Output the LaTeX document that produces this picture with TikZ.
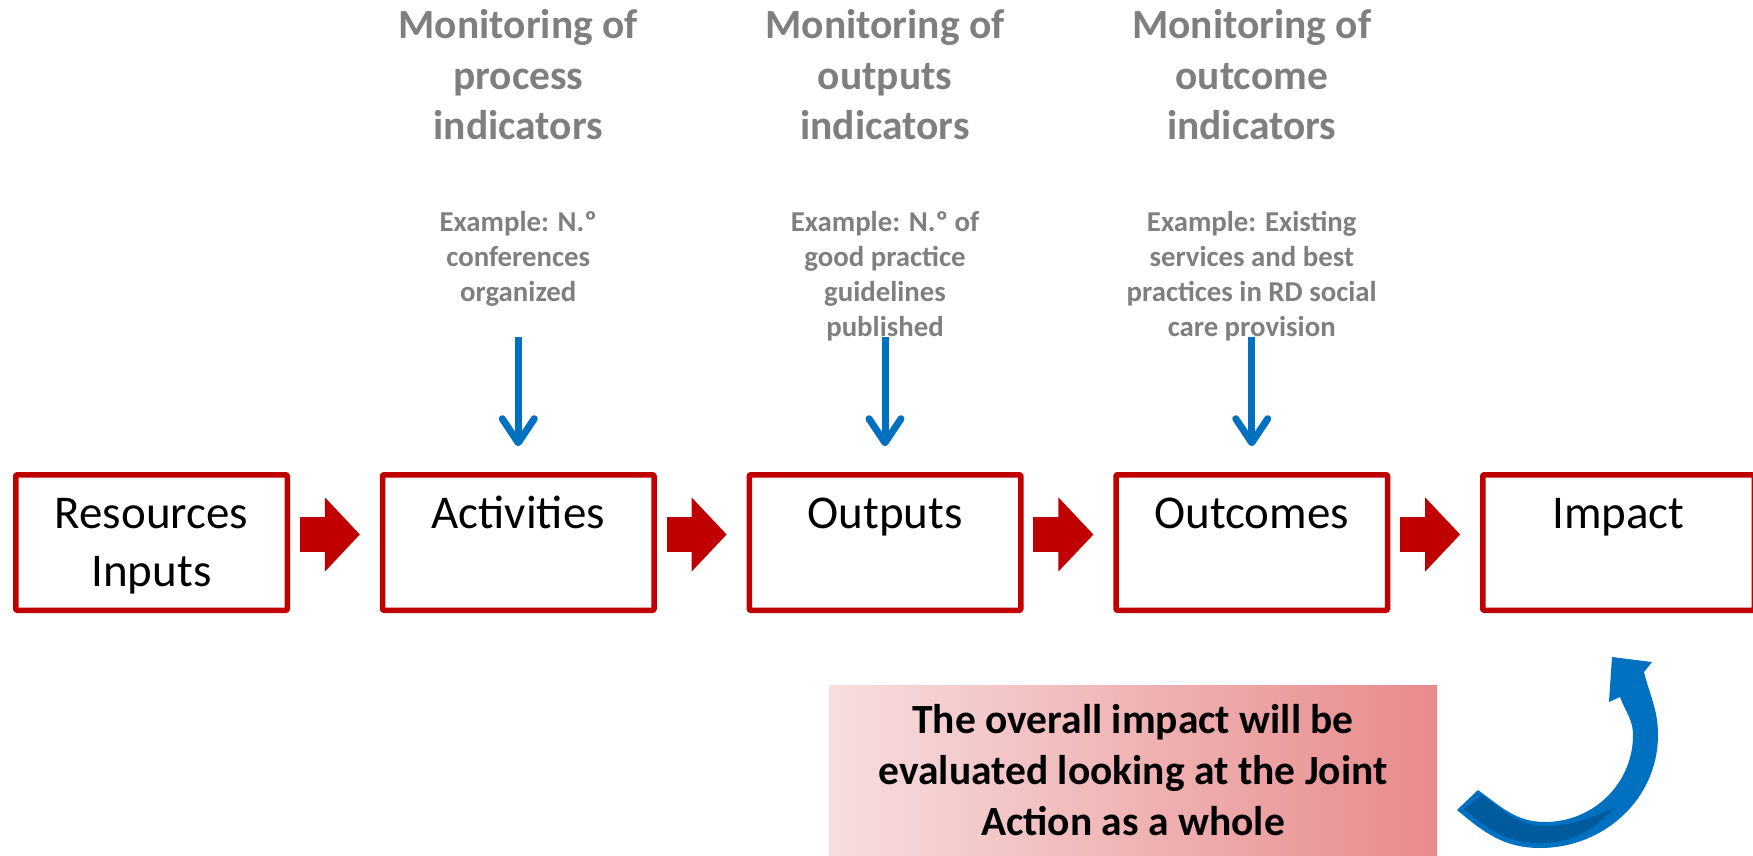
\documentclass[tikz,border=0pt]{standalone}
\usepackage{fontspec}
\setmainfont{Carlito}
\usetikzlibrary{arrows.meta}
\definecolor{boxred}{RGB}{192,0,0}
\definecolor{monblue}{RGB}{0,112,192}
\definecolor{monbluedark}{RGB}{0,90,158}
\definecolor{labelgray}{RGB}{127,127,127}
\definecolor{noteL}{RGB}{247,222,223}
\definecolor{noteR}{RGB}{232,138,139}
\begin{document}
\begin{tikzpicture}[x=0.5pt, y=0.5pt, line join=round, >=stealth,
	stage/.style={draw=boxred, line width=2.75pt, minimum width=135.75pt, minimum height=67.75pt, inner sep=0pt, rounded corners=0.5pt},
	stagetext/.style={anchor=base, align=center, inner sep=0pt, font=\fontsize{23.5pt}{29.25pt}\selectfont},
	montitle/.style={anchor=base, align=center, inner sep=0pt, text=labelgray, font=\bfseries\fontsize{20.75pt}{25.25pt}\selectfont},
	monexample/.style={anchor=base, align=center, inner sep=0pt, text=labelgray, font=\bfseries\fontsize{14.4pt}{17.5pt}\selectfont},
	notetext/.style={anchor=base, align=center, inner sep=0pt, font=\bfseries\fontsize{20.75pt}{25.5pt}\selectfont},
	flow/.style={boxred, line width=17.5pt, -{Triangle[length=17.5pt, width=36pt]}},
	mon/.style={monblue, line width=3.5pt, -{Straight Barb[length=12pt, width=16pt, round]}}]
	\useasboundingbox (0,0) rectangle (1753,-856);
	\clip (0,0) rectangle (1753,-856);
	
	% chain of stages (text placed by the baseline of its last line)
	\foreach \name/\i/\yb/\txt in {res/0/-586.5/{Resources\\Inputs}, act/1/-528/{Activities}, out/2/-528/{Outputs}, outc/3/-528/{Outcomes}, imp/4/-528/{Impact}}
	{
		\node[stage] (\name) at ({151.5+366.75*\i},-542.5) {};
		\node[stagetext] (\name-t) at ({151.5+366.75*\i},\yb) {\txt};
	}
	\foreach \a/\b in {res/act, act/out, out/outc, outc/imp}
	\draw[flow] ([shift={(4.9pt,4pt)}]\a.east) -- ([shift={(-9.9pt,4pt)}]\b.west);
	
	% monitoring columns
	\foreach \stg/\i/\yb/\tit/\ex in {act/1/-301/{Monitoring of\\process\\indicators}/{Example: N.º\\conferences\\organized},
		out/2/-336/{Monitoring of\\outputs\\indicators}/{Example: N.º of\\good practice\\guidelines\\published},
		outc/3/-336/{Monitoring of\\outcome\\indicators}/{Example: Existing\\services and best\\practices in RD social\\care provision}}
	{
		\node[montitle] (\stg-mt) at ({151.5+366.75*\i},-140) {\tit};
		\node[monexample] (\stg-ex) at ({151.5+366.75*\i},\yb) {\ex};
		\coordinate (\stg-top) at ({151.5+366.75*\i},-337);
		\draw[mon, shorten >=12.9pt] (\stg-top) -- (\stg.north);
	}
	
	% overall impact note
	\shade[left color=noteL, right color=noteR] (829,-685) rectangle (1437,-880);
	\node[notetext] (note) at (1133,-835) {The overall impact will be\\evaluated looking at the Joint\\Action as a whole};
	
	% curved arrow back to impact
	\fill[monblue] (1457,-810) to[out=-40,in=180] (1540,-848) to[out=0,in=-90] (1658,-735) to[out=90,in=-76] (1644,-672)
		-- (1652,-662) -- (1612,-657) -- (1609,-702) -- (1620,-697)
		to[out=-70,in=90] (1633,-735) to[out=-90,in=0] (1545,-822) to[out=180,in=-36] (1478,-790) -- cycle;
	\fill[monbluedark] (1464,-809) to[out=-40,in=180] (1540,-843) to[out=0,in=-135] (1615,-808)
		to[out=-160,in=0] (1545,-826) to[out=180,in=-36] (1482,-795) -- cycle;
\end{tikzpicture}
\end{document}
